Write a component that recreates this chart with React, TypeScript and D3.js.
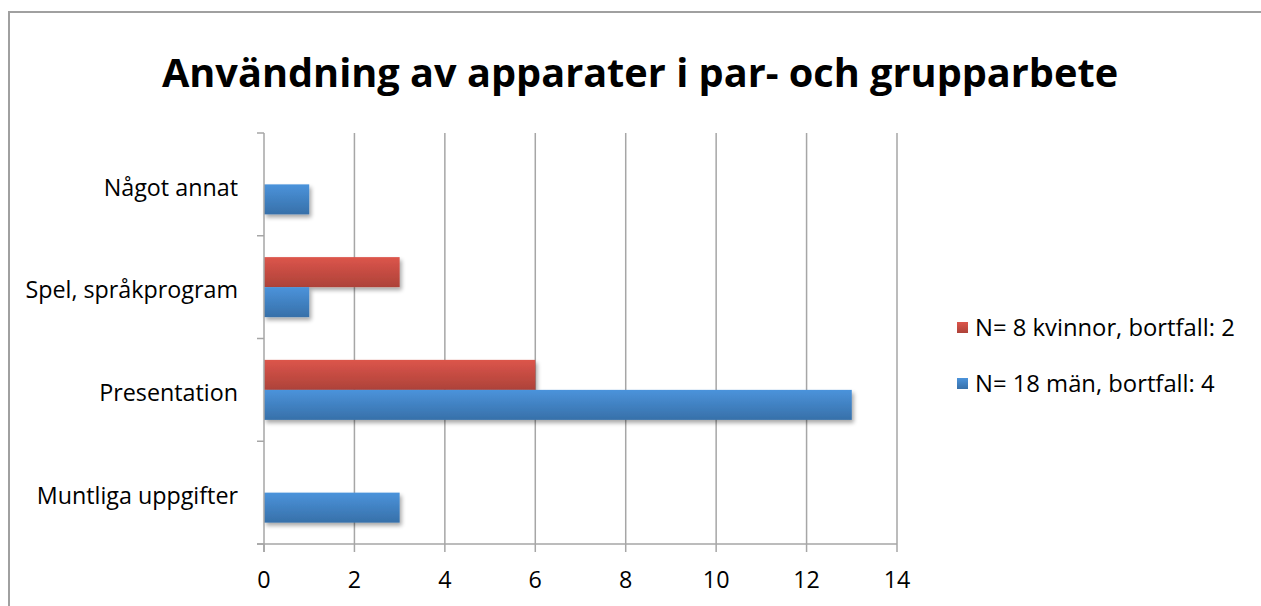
import React from "react";
import * as d3 from "d3";

// categories listed top to bottom as they appear in the chart
const categories = ["Något annat", "Spel, språkprogram", "Presentation", "Muntliga uppgifter"];
const seriesNames = ["N= 8 kvinnor, bortfall: 2", "N= 18 män, bortfall: 4"];
const kvinnor = [0, 3, 6, 0];
const man = [1, 1, 13, 3];
const xTicks = [0, 2, 4, 6, 8, 10, 12, 14];

const title = "Användning av apparater i par- och grupparbete";
const font = "'Open Sans', 'Liberation Sans', sans-serif";
const gridColor = "#a6a6a6";

function App() {
  const width = 1261;
  const height = 606;

  const x = d3.scaleLinear().domain([0, 14]).range([264, 897]);
  const y = d3
    .scaleBand<string>()
    .domain(categories)
    .range([133, 544])
    .paddingInner(0.416)
    .paddingOuter(0.208);
  const inner = d3.scaleBand<number>().domain([0, 1]).range([0, y.bandwidth()]);

  const series = [
    { name: seriesNames[0], values: kvinnor, grad: "gradRed" },
    { name: seriesNames[1], values: man, grad: "gradBlue" }
  ];

  const step = y.step();
  const bandEdges = d3.range(categories.length + 1).map(i => 133 + i * step);

  return (
    <svg
      width={width}
      height={height}
      style={{ position: "absolute", left: 0, top: 0, display: "block", background: "#fff" }}
    >
      <defs>
        <linearGradient id="gradRed" x1="0" y1="0" x2="0" y2="1">
          <stop offset="0%" stopColor="#dc554b" />
          <stop offset="100%" stopColor="#ad4239" />
        </linearGradient>
        <linearGradient id="gradBlue" x1="0" y1="0" x2="0" y2="1">
          <stop offset="0%" stopColor="#4b93db" />
          <stop offset="100%" stopColor="#3770a9" />
        </linearGradient>
        <filter id="shadow" x="-10%" y="-20%" width="130%" height="160%">
          <feGaussianBlur in="SourceAlpha" stdDeviation="2" />
          <feOffset dx="2" dy="3" result="b" />
          <feComponentTransfer>
            <feFuncA type="linear" slope="0.35" />
          </feComponentTransfer>
          <feMerge>
            <feMergeNode />
            <feMergeNode in="SourceGraphic" />
          </feMerge>
        </filter>
      </defs>

      {/* outer frame */}
      <rect x={9} y={12} width={1270} height={620} fill="none" stroke="#a0a0a0" strokeWidth={2} />

      <text
        x={640}
        y={87}
        textAnchor="middle"
        fontFamily={font}
        fontWeight="bold"
        fontSize={39.7}
        fill="#000"
      >
        {title}
      </text>

      {/* vertical gridlines */}
      {xTicks.slice(1).map(t => (
        <line key={t} x1={x(t)} x2={x(t)} y1={133} y2={544} stroke={gridColor} strokeWidth={1.5} />
      ))}

      {/* bars */}
      {categories.map((c, i) =>
        series.map((s, j) =>
          s.values[i] > 0 ? (
            <rect
              key={c + j}
              x={x(0)}
              y={(y(c) as number) + (inner(j) as number)}
              width={x(s.values[i]) - x(0)}
              height={inner.bandwidth()}
              fill={`url(#${s.grad})`}
              filter="url(#shadow)"
            />
          ) : null
        )
      )}

      {/* y axis */}
      <line x1={x(0)} x2={x(0)} y1={133} y2={552} stroke={gridColor} strokeWidth={1.5} />
      {bandEdges.map((e, i) => (
        <line key={i} x1={257} x2={x(0)} y1={e} y2={e} stroke={gridColor} strokeWidth={1.5} />
      ))}
      {categories.map(c => (
        <text
          key={c}
          x={238}
          y={(y(c) as number) + y.bandwidth() / 2 + 5}
          textAnchor="end"
          dominantBaseline="middle"
          fontFamily={font}
          fontSize={23.3}
          fill="#000"
        >
          {c}
        </text>
      ))}

      {/* x axis */}
      <line x1={257} x2={x(14)} y1={544} y2={544} stroke={gridColor} strokeWidth={1.5} />
      {xTicks.map(t => (
        <g key={t}>
          <line x1={x(t)} x2={x(t)} y1={544} y2={552} stroke={gridColor} strokeWidth={1.5} />
          <text
            x={x(t)}
            y={582}
            textAnchor="middle"
            dominantBaseline="middle"
            fontFamily={font}
            fontSize={23.3}
            fill="#000"
          >
            {t}
          </text>
        </g>
      ))}

      {/* legend */}
      {series.map((s, i) => (
        <g key={s.name} transform={`translate(957, ${322 + i * 56})`}>
          <rect width={11} height={11} fill={`url(#${s.grad})`} />
          <text x={18} y={8} dominantBaseline="middle" fontFamily={font} fontSize={23.8} fill="#000">
            {s.name}
          </text>
        </g>
      ))}
    </svg>
  );
}

export default App;
